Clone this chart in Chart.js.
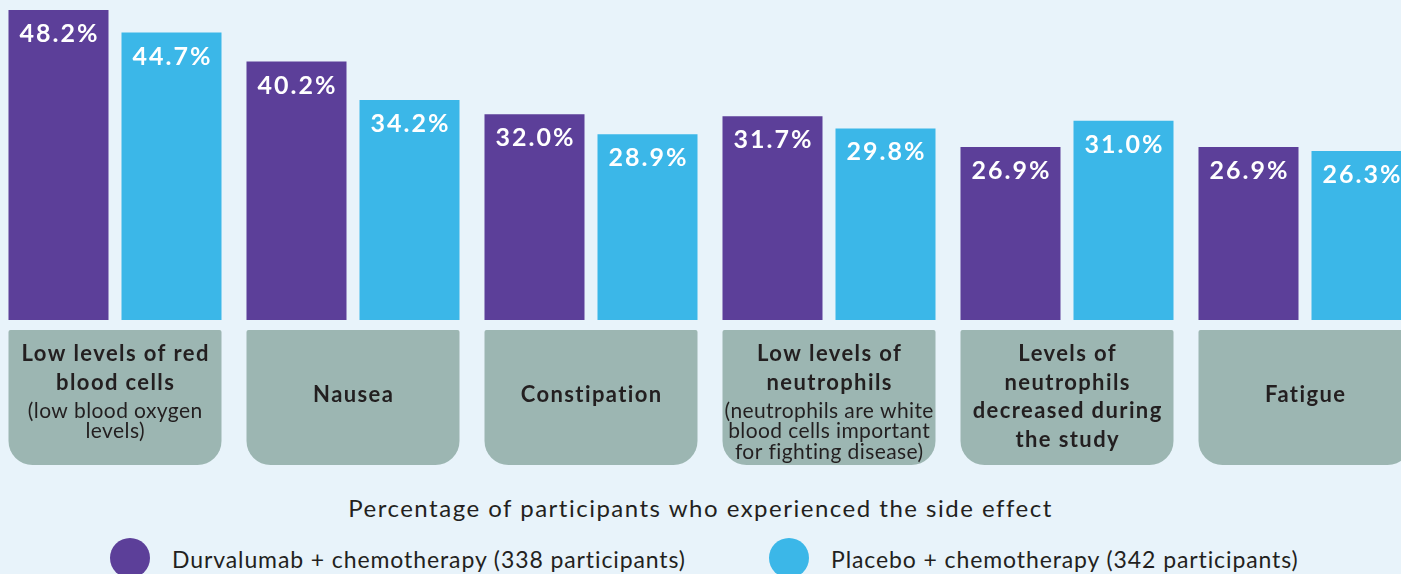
<!DOCTYPE html>
<html>
<head>
<meta charset="utf-8">
<script src="https://cdn.jsdelivr.net/npm/chart.js@4"></script>
<style>
    html, body {
        margin: 0;
        padding: 0;
        width: 1401px;
        height: 574px;
        overflow: hidden;
        background: #e8f3fa;
        font-family: Lato, "Open Sans", sans-serif;
        color: #231f20;
    }
    #wrap {
        position: absolute;
        left: -4.5px;
        top: 0;
        width: 1428px;
        height: 470px;
    }
    #axis-title {
        position: absolute;
        left: 0;
        width: 1401px;
        top: 492px;
        text-align: center;
        font-size: 24px;
        line-height: 32px;
        letter-spacing: 1.5px;
    }
    .legend-item {
        position: absolute;
        top: 538px;
        height: 40px;
        font-size: 23px;
        line-height: 40px;
        letter-spacing: 0.9px;
        white-space: nowrap;
    }
    .legend-item .dot {
        position: absolute;
        left: 0;
        top: 0;
        width: 40px;
        height: 40px;
        border-radius: 50%;
    }
    .legend-item span.txt {
        position: absolute;
        left: 62px;
        top: 1px;
    }
</style>
</head>
<body>
<div id="wrap"><canvas id="sideChart" width="1428" height="470"></canvas></div>
<div id="axis-title"></div>
<div id="legend"></div>

<script>
// Side effect categories (each entry = lines of the grey label box)
const categories = [
    [["Low levels of red", "b"], ["blood cells", "b"], ["(low blood oxygen", "r"], ["levels)", "r"]],
    [["Nausea", "b"]],
    [["Constipation", "b"]],
    [["Low levels of", "b"], ["neutrophils", "b"], ["(neutrophils are white", "r"], ["blood cells important", "r"], ["for fighting disease)", "r"]],
    [["Levels of", "b"], ["neutrophils", "b"], ["decreased during", "b"], ["the study", "b"]],
    [["Fatigue", "b"]]
];

// Percentage of participants
const durvalumabValues = [48.2, 40.2, 32.0, 31.7, 26.9, 26.9];
const placeboValues = [44.7, 34.2, 28.9, 29.8, 31.0, 26.3];

const seriesNames = [
    "Durvalumab + chemotherapy (338 participants)",
    "Placebo + chemotherapy (342 participants)"
];
const axisTitle = "Percentage of participants who experienced the side effect";

const PURPLE = "#5c3f99";
const CYAN = "#3bb7e8";
const BOX = "#9cb6b2";

// centered text that also works with letter spacing
function spacedText(ctx, text, x, y, spacing) {
    ctx.letterSpacing = spacing + "px";
    ctx.fillText(text, x + spacing / 2, y);
    ctx.letterSpacing = "0px";
}

// Value labels at the top inside each bar
const valueLabels = {
    id: "valueLabels",
    afterDatasetsDraw(chart) {
        const ctx = chart.ctx;
        ctx.save();
        ctx.fillStyle = "#ffffff";
        ctx.font = "bold 25px Lato";
        ctx.textAlign = "center";
        ctx.textBaseline = "alphabetic";
        chart.data.datasets.forEach((ds, i) => {
            chart.getDatasetMeta(i).data.forEach((bar, j) => {
                spacedText(ctx, ds.data[j].toFixed(1) + "%", bar.x, bar.y + 32, 2);
            });
        });
        ctx.restore();
    }
};

// Grey boxes with category names under each group
const categoryBoxes = {
    id: "categoryBoxes",
    afterDraw(chart) {
        const ctx = chart.ctx;
        const xs = chart.scales.x;
        const bottom = chart.chartArea.bottom;
        const top = bottom + 10;
        const h = 135;
        const half = 106.5;
        ctx.save();
        categories.forEach((lines, i) => {
            const cx = xs.getPixelForValue(i);
            const left = cx - half;
            ctx.fillStyle = BOX;
            ctx.beginPath();
            ctx.roundRect(left, top, half * 2, h, [2, 2, 24, 24]);
            ctx.fill();

            ctx.fillStyle = "#231f20";
            ctx.textAlign = "center";
            ctx.textBaseline = "middle";
            let y = lines.length === 1 ? top + 65 : top + 24;
            lines.forEach((ln, k) => {
                if (k > 0) {
                    y += (ln[1] === "r" && lines[k - 1][1] === "r") ? 20.5 : 28.5;
                }
                if (ln[1] === "b") {
                    ctx.font = "bold 22px Lato";
                    spacedText(ctx, ln[0], cx, y, 1.4);
                } else {
                    ctx.font = "21px Lato";
                    spacedText(ctx, ln[0], cx, y, 0.4);
                }
            });
        });
        ctx.restore();
    }
};

new Chart(document.getElementById("sideChart"), {
    type: "bar",
    data: {
        labels: categories.map(c => c.map(l => l[0]).join(" ")),
        datasets: [{
            label: seriesNames[0],
            data: durvalumabValues,
            backgroundColor: PURPLE
        }, {
            label: seriesNames[1],
            data: placeboValues,
            backgroundColor: CYAN
        }]
    },
    options: {
        responsive: false,
        animation: false,
        devicePixelRatio: 1,
        layout: {
            padding: { left: 0, right: 0, top: 0, bottom: 150 }
        },
        categoryPercentage: 0.9496,
        barPercentage: 0.885,
        scales: {
            x: { display: false },
            y: { display: false, min: 0, max: 49.77 }
        },
        plugins: {
            legend: { display: false },
            tooltip: { enabled: false }
        }
    },
    plugins: [valueLabels, categoryBoxes]
});

// Axis title and legend below the chart
document.getElementById("axis-title").textContent = axisTitle;
const legendPos = [110, 769];
const legendColors = [PURPLE, CYAN];
const legend = document.getElementById("legend");
seriesNames.forEach((name, i) => {
    const item = document.createElement("div");
    item.className = "legend-item";
    item.style.left = legendPos[i] + "px";
    item.innerHTML = '<div class="dot" style="background:' + legendColors[i] + '"></div>' +
        '<span class="txt"></span>';
    item.querySelector(".txt").textContent = name;
    legend.appendChild(item);
});
</script>
</body>
</html>
